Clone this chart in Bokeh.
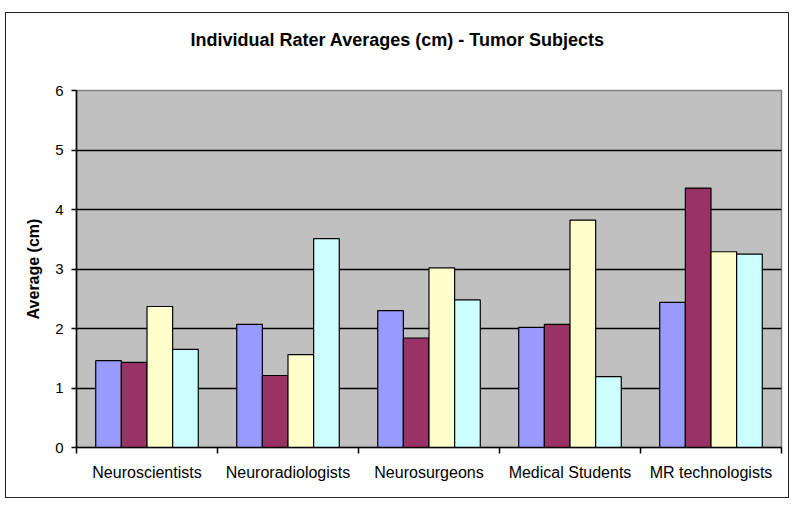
from bokeh.plotting import figure
from bokeh.models import FixedTicker, ColumnDataSource, Range1d, Title
from bokeh.transform import dodge
from bokeh.embed import file_html
from bokeh.resources import INLINE

title_text = "Individual Rater Averages (cm) - Tumor Subjects"
categories = ["Neuroscientists", "Neuroradiologists", "Neurosurgeons",
              "Medical Students", "MR technologists"]
rater1 = [1.46, 2.07, 2.30, 2.02, 2.44]
rater2 = [1.43, 1.21, 1.84, 2.07, 4.36]
rater3 = [2.37, 1.56, 3.02, 3.82, 3.29]
rater4 = [1.65, 3.51, 2.48, 1.19, 3.25]
y_ticks = [0, 1, 2, 3, 4, 5, 6]
colors = ["#9999FF", "#993366", "#FFFFCC", "#CCFFFF"]

n = len(categories)
centers = [i + 0.5 for i in range(n)]
src = ColumnDataSource(dict(x=centers, r1=rater1, r2=rater2, r3=rater3, r4=rater4))

p = figure(width=784, height=486, x_range=Range1d(0, n), y_range=Range1d(0, 6),
           output_backend="svg", toolbar_location=None, title=None)
p.min_border_left = 70
p.min_border_right = 9
p.min_border_top = 77
p.min_border_bottom = 52
p.styles = {"border": "1.5px solid #222", "margin-left": "5px", "margin-top": "12px"}

# spacer between title and plot area
p.add_layout(Title(text=" ", text_font_size="18px", standoff=19), "above")
p.add_layout(Title(text=title_text, align="left", offset=114, standoff=0,
                   text_font="Liberation Sans", text_font_size="18px",
                   text_font_style="bold", text_color="#000000"), "above")

p.background_fill_color = "#C0C0C0"
p.border_fill_color = "#FFFFFF"
p.outline_line_color = "#808080"
p.outline_line_width = 1.5

w = 1 / 5.5
for j, (key, col) in enumerate(zip(["r1", "r2", "r3", "r4"], colors)):
    p.vbar(x=dodge("x", (j - 1.5) * w, range=p.x_range), top=key, width=w,
           bottom=0, source=src, fill_color=col, line_color="#000000", line_width=1.2)

p.xgrid.visible = False
p.ygrid.ticker = FixedTicker(ticks=[t for t in y_ticks if 0 < t < 6])
p.ygrid.grid_line_color = "#000000"
p.ygrid.grid_line_width = 1.3

p.xaxis.ticker = FixedTicker(ticks=centers, minor_ticks=list(range(n + 1)))
p.xaxis.major_label_overrides = {c: lab for c, lab in zip(centers, categories)}
p.xaxis.major_tick_in = 0
p.xaxis.major_tick_out = 0
p.xaxis.minor_tick_in = 0
p.xaxis.minor_tick_out = 6
p.xaxis.minor_tick_line_color = "#000000"
p.xaxis.minor_tick_line_width = 1.5
p.xaxis.major_label_standoff = 10
p.xaxis.major_label_text_font = "Liberation Sans"
p.xaxis.major_label_text_font_size = "16px"
p.xaxis.major_label_text_color = "#000000"

p.yaxis.ticker = FixedTicker(ticks=y_ticks)
p.yaxis.major_tick_in = 0
p.yaxis.major_tick_out = 5
p.yaxis.minor_tick_line_color = None
p.yaxis.major_label_standoff = 8
p.yaxis.major_label_text_font = "Liberation Sans"
p.yaxis.major_label_text_font_size = "15px"
p.yaxis.major_label_text_color = "#000000"
p.yaxis.axis_label = "Average (cm)"
p.yaxis.axis_label_text_font = "Liberation Sans"
p.yaxis.axis_label_text_font_size = "16px"
p.yaxis.axis_label_text_font_style = "bold"
p.yaxis.axis_label_text_color = "#000000"
p.yaxis.axis_label_standoff = 10

for ax in (p.xaxis, p.yaxis):
    ax.axis_line_color = "#000000"
    ax.axis_line_width = 1.5
    ax.major_tick_line_color = "#000000"
    ax.major_tick_line_width = 1.5

open("out.html", "w").write(file_html(p, INLINE))
